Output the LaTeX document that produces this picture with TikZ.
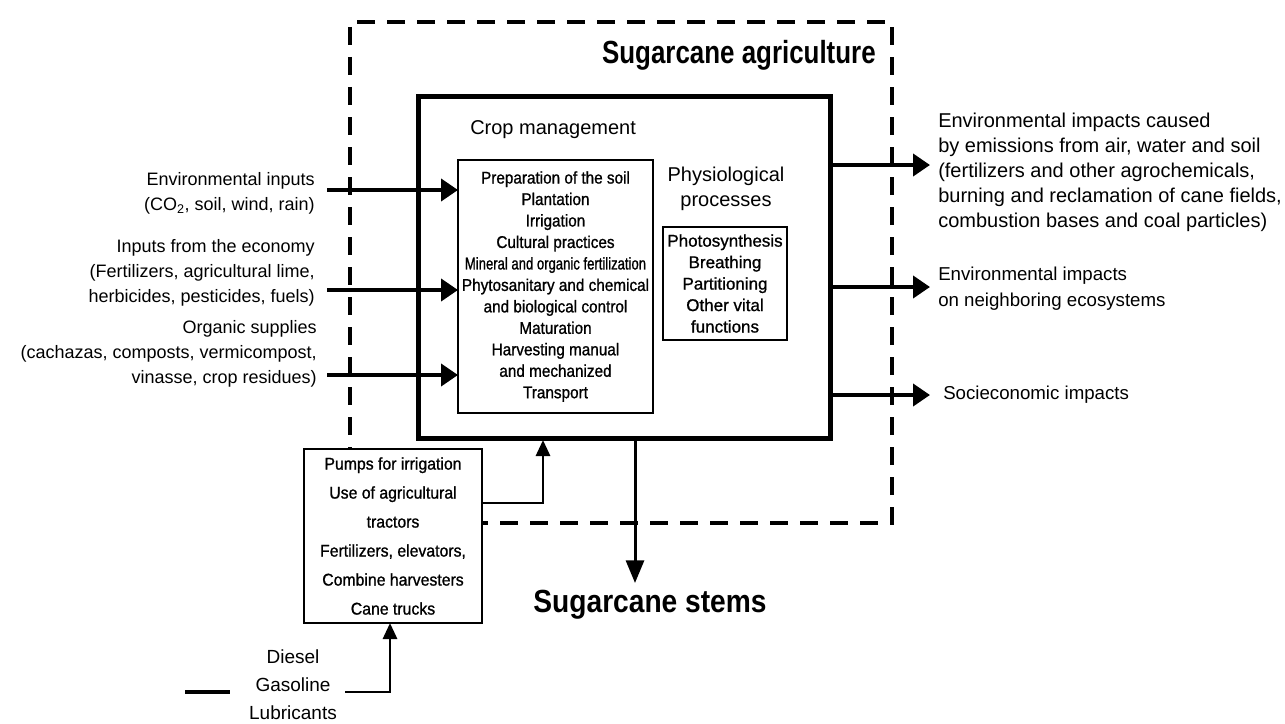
\documentclass[tikz,border=0pt]{standalone}
\usepackage{fontspec}
\setmainfont{Liberation Sans}
\newfontfamily\narrowfont[FakeStretch=0.9,FakeBold=1]{Liberation Sans}
\newfontfamily\vnarrowfont[FakeStretch=0.77,FakeBold=1]{Liberation Sans}
\newfontfamily\physfont[FakeBold=1]{Liberation Sans}
\newfontfamily\machfont[FakeStretch=0.93,FakeBold=1]{Liberation Sans}
\newfontfamily\titlefont[FakeStretch=0.88]{Liberation Sans}
\newfontfamily\titlefontb[FakeStretch=0.81]{Liberation Sans}
\usetikzlibrary{arrows.meta}
\begin{document}
\begin{tikzpicture}[x=0.75pt,y=-0.75pt,
  dashbox/.style={draw, line width=3pt, dash pattern=on 13.5pt off 9pt, inner sep=0pt, outer sep=0pt},
  solidbox/.style={draw, line width=3.75pt, inner sep=0pt, outer sep=0pt},
  thinbox/.style={draw, line width=1.1pt, inner sep=0pt, outer sep=0pt, align=center, fill=white},
  title/.style={font={\titlefont\bfseries\fontsize{24}{28}\selectfont}, inner sep=0pt},
  titleb/.style={font={\titlefontb\bfseries\fontsize{24}{28}\selectfont}, inner sep=0pt},
  head/.style={font={\fontsize{15}{18.5}\selectfont}, inner sep=0pt, align=center},
  listtext/.style={font={\narrowfont\fontsize{12.75}{16.1}\selectfont}},
  phystext/.style={font={\physfont\fontsize{12.75}{16.1}\selectfont}},
  machtext/.style={font={\machfont\fontsize{12.75}{21.75}\selectfont}},
  intext/.style={font={\fontsize{13.5}{18.75}\selectfont}, inner sep=0pt, align=right},
  outtexta/.style={font={\fontsize{15}{18.75}\selectfont}, inner sep=0pt, align=left},
  outtextb/.style={font={\fontsize{14}{19.5}\selectfont}, inner sep=0pt, align=left},
  fueltext/.style={font={\fontsize{14.25}{21}\selectfont}, inner sep=0pt, align=center},
  bigarrow/.style={line width=3pt, -{Triangle[length=12.75pt,width=16.5pt]}},
  midarrow/.style={line width=2.25pt, -{Triangle[length=17pt,width=13.5pt]}},
  smallarrow/.style={line width=2.2pt, -{Triangle[length=12pt,width=10.5pt]}},
  plainline/.style={line width=2.6pt}
]
\useasboundingbox (0,0) rectangle (1285,724);

% outer dashed system boundary
\node[dashbox, minimum width=406.5pt, minimum height=375.75pt] (outer) at (621,272.5) {};
\node[titleb, anchor=east] (agri) at (876,55) {Sugarcane agriculture};

% inner crop box
\node[solidbox, minimum width=309pt, minimum height=255.75pt] (inner) at (624,267.5) {};
\node[head, anchor=west] (cropm) at (470,130) {Crop management};

\node[thinbox, listtext, minimum width=146.25pt, minimum height=189.75pt] (crop) at (555.5,286.5)
 {Preparation of the soil\\Plantation\\Irrigation\\Cultural practices\\
  {\vnarrowfont Mineral and organic fertilization}\\Phytosanitary and chemical\\and biological control\\
  Maturation\\Harvesting manual\\and mechanized\\Transport};

\node[head] (physl) at (726,189) {Physiological\\processes};
\node[thinbox, phystext, minimum width=93pt, minimum height=84.75pt] (phys) at (725,283.5)
 {Photosynthesis\\Breathing\\Partitioning\\Other vital\\functions};

% left inputs
\node[intext, anchor=east] (envin) at (315,193) {Environmental inputs\\(CO\textsubscript{2}, soil, wind, rain)};
\node[intext, anchor=east] (ecoin) at (315,273) {Inputs from the economy\\(Fertilizers, agricultural lime,\\herbicides, pesticides, fuels)};
\node[intext, anchor=east] (orgin) at (317,354) {Organic supplies\\(cachazas, composts, vermicompost,\\vinasse, crop residues)};

\coordinate (in1) at (327,190);
\coordinate (in2) at (327,290);
\coordinate (in3) at (327,375);
\draw[bigarrow] (in1) -- (in1 -| crop.west);
\draw[bigarrow] (in2) -- (in2 -| crop.west);
\draw[bigarrow] (in3) -- (in3 -| crop.west);

% right outputs
\node[outtexta, anchor=west] (outa) at (938,172) {Environmental impacts caused\\by emissions from air, water and soil\\(fertilizers and other agrochemicals,\\burning and reclamation of cane fields,\\combustion bases and coal particles)};
\node[outtextb, anchor=west] (outb) at (938,289) {Environmental impacts\\on neighboring ecosystems};
\node[outtextb, anchor=west] (outc) at (943,395) {Socieconomic impacts};

\coordinate (out1) at (930,165);
\coordinate (out2) at (930,287);
\coordinate (out3) at (930,395);
\draw[bigarrow] (out1 -| inner.east) -- (out1);
\draw[bigarrow] (out2 -| inner.east) -- (out2);
\draw[bigarrow] (out3 -| inner.east) -- (out3);

% sugarcane stems
\coordinate (stemtip) at (635,583);
\draw[midarrow] (stemtip |- inner.south) -- (stemtip);
\node[title] (stems) at (650,605) {Sugarcane stems};

% machinery box
\node[thinbox, machtext, minimum width=133.5pt, minimum height=130.5pt] (mach) at (393,536)
 {Pumps for irrigation\\Use of agricultural\\tractors\\Fertilizers, elevators,\\Combine harvesters\\Cane trucks};
\coordinate (machcorner) at (543,503);
\draw[smallarrow] (machcorner -| mach.east) -- (machcorner) -- ([yshift=-1.5pt]machcorner |- inner.south);

% fuels
\node[fueltext] (fuel) at (293,685) {Diesel\\Gasoline\\Lubricants};
\coordinate (fuelA) at (185,692);
\coordinate (fuelB) at (230,692);
\coordinate (fuelstart) at (345,692);
\coordinate (fuelcorner) at (390,692);
\draw[plainline] (fuelA) -- (fuelB);
\draw[smallarrow] (fuelstart) -- (fuelcorner) -- (fuelcorner |- mach.south);
\end{tikzpicture}
\end{document}
